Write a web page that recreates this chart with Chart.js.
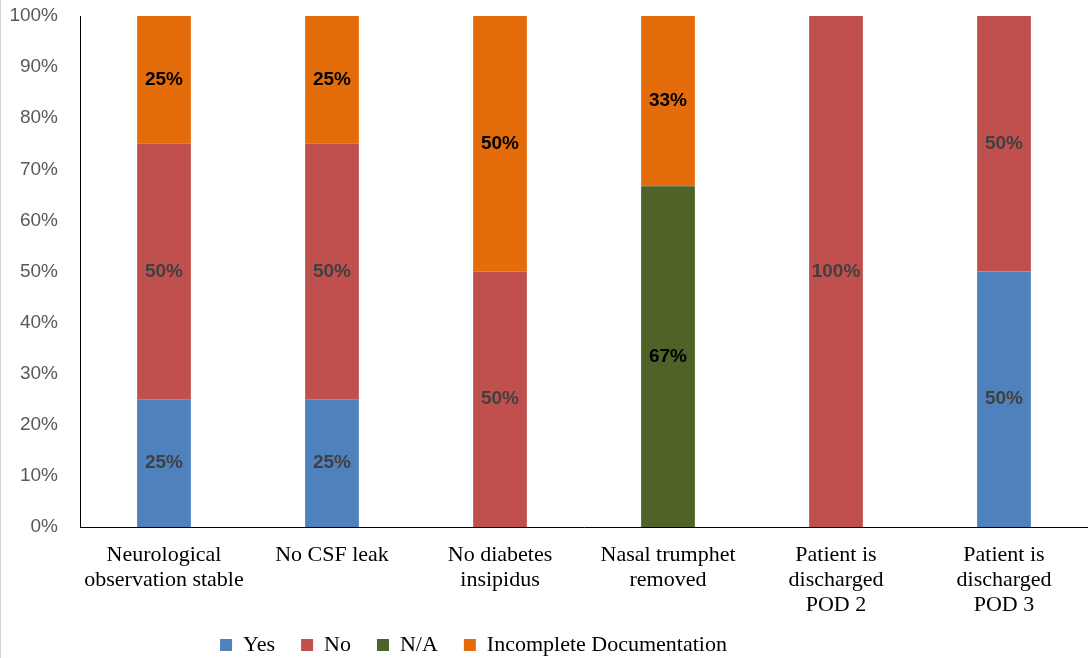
<!DOCTYPE html>
<html>
<head>
<meta charset="utf-8">
<script src="https://cdn.jsdelivr.net/npm/chart.js@4"></script>
<style>
  body { margin: 0; background: #fff; }
  #wrap { width: 1087px; height: 658px; border-left: 1px solid #d4d4d4; }
</style>
</head>
<body>
<div id="wrap"><canvas id="chart"></canvas></div>
<script>
// categories and series (percent of patients)
const categories = [
  ["Neurological", "observation stable"],
  ["No CSF leak"],
  ["No diabetes", "insipidus"],
  ["Nasal trumphet", "removed"],
  ["Patient is", "discharged", "POD 2"],
  ["Patient is", "discharged", "POD 3"]
];
const yes = [25, 25, 0, 0, 0, 50];
const no = [50, 50, 50, 0, 100, 50];
const na = [0, 0, 0, 66.7, 0, 0];
const incomplete = [25, 25, 50, 33.3, 0, 0];
const yTicks = [0, 10, 20, 30, 40, 50, 60, 70, 80, 90, 100];

// draw the % labels inside each segment
const segmentLabels = {
  id: "segmentLabels",
  afterDatasetsDraw(chart) {
    const ctx = chart.ctx;
    ctx.save();
    ctx.font = "bold 19px 'Liberation Sans', Arial, sans-serif";
    ctx.textAlign = "center";
    ctx.textBaseline = "middle";
    chart.data.datasets.forEach((ds, i) => {
      const meta = chart.getDatasetMeta(i);
      ctx.fillStyle = i < 2 ? "#404040" : "#000";
      meta.data.forEach((bar, j) => {
        const v = ds.data[j];
        if (!v) return;
        ctx.fillText(Math.round(v) + "%", bar.x, (bar.y + bar.base) / 2);
      });
    });
    ctx.restore();
  }
};

// place the legend like the original
const placeLegend = {
  id: "placeLegend",
  afterLayout(chart) {
    const lg = chart.legend;
    const h = lg.bottom - lg.top;
    lg.left -= 71;
    lg.right -= 71;
    lg.top = 608;
    lg.bottom = 608 + h;
  }
};

new Chart(document.getElementById("chart"), {
  type: "bar",
  data: {
    labels: categories,
    datasets: [
      { label: "Yes", data: yes, backgroundColor: "#4F81BD" },
      { label: "No", data: no, backgroundColor: "#C0504D" },
      { label: "N/A", data: na, backgroundColor: "#4F6228" },
      { label: "Incomplete Documentation", data: incomplete, backgroundColor: "#E46C0A" }
    ]
  },
  options: {
    responsive: true,
    maintainAspectRatio: false,
    animation: false,
    datasets: { bar: { categoryPercentage: 1, barPercentage: 0.32 } },
    layout: { padding: { top: 16, right: 0, left: 0, bottom: -19 } },
    plugins: {
      tooltip: { enabled: false },
      legend: {
        position: "bottom",
        labels: {
          boxWidth: 12,
          boxHeight: 12,
          padding: 26,
          color: "#000",
          font: { family: "'Liberation Serif', 'Times New Roman', serif", size: 22 }
        }
      }
    },
    scales: {
      x: {
        stacked: true,
        grid: { display: false, drawTicks: false },
        border: { color: "#000", width: 1 },
        ticks: {
          color: "#000",
          padding: 16,
          maxRotation: 0,
          autoSkip: false,
          font: { family: "'Liberation Serif', 'Times New Roman', serif", size: 22, lineHeight: 1.14 }
        },
        afterFit(scale) { scale.height = 92; }
      },
      y: {
        stacked: true,
        min: 0,
        max: 100,
        afterBuildTicks(scale) { scale.ticks = yTicks.map(v => ({ value: v })); },
        grid: { display: false, drawTicks: false },
        border: { color: "#000", width: 1 },
        ticks: {
          color: "#595959",
          padding: 22,
          font: { family: "'Liberation Sans', Arial, sans-serif", size: 19 },
          callback: v => v + "%"
        },
        afterFit(scale) {
          scale.width = 79;
          scale.paddingTop = 0;
          scale.paddingBottom = 0;
        }
      }
    }
  },
  plugins: [segmentLabels, placeLegend]
});
</script>
</body>
</html>
